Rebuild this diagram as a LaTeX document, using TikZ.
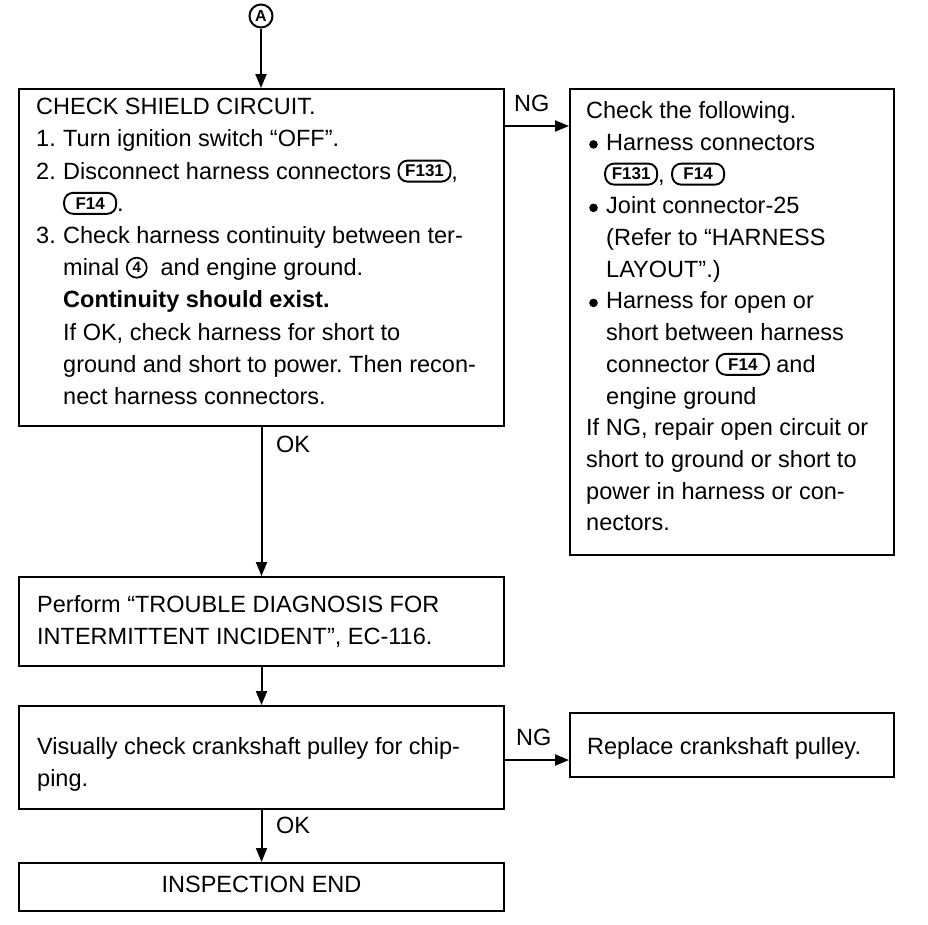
\documentclass[tikz,border=0pt]{standalone}
\usepackage{fontspec}
\setmainfont{Liberation Sans}
\usetikzlibrary{arrows.meta}
\frenchspacing
\newcommand{\mybadge}[1]{\tikz[x=1pt,y=1pt,baseline=-8pt]\node[anchor=center,draw,line width=1.9pt,rounded corners=9pt,minimum width=52pt,minimum height=21pt,inner sep=0pt,font=\fontsize{17}{17}\selectfont\bfseries] at (0,0) {#1};}
\newcommand{\mycirc}[1]{\tikz[x=1pt,y=1pt,baseline=-8pt]\node[anchor=center,circle,draw,line width=1.7pt,minimum size=20pt,inner sep=0pt,font=\fontsize{15}{15}\selectfont\bfseries] at (0,0) {#1};}
\newcommand{\mybul}{\makebox[20pt][l]{\hspace*{3pt}\tikz[x=1pt,y=1pt,baseline=-6pt]\fill (0,0) circle (4.3pt);}}
\newcommand{\fst}{\rule{0pt}{24pt}}
\begin{document}
\begin{tikzpicture}[x=1pt,y=-1pt,
  box/.style={draw,line width=2pt,anchor=north west,inner sep=0pt},
  txt/.style={anchor=north west,inner sep=0pt,align=left,font=\fontsize{23.5}{32.2}\selectfont},
  lbl/.style={anchor=base west,inner sep=0pt,font=\fontsize{23.5}{28}\selectfont},
  arr/.style={line width=2pt,-{Triangle[length=14pt,width=11pt]}}]
\useasboundingbox (0,0) rectangle (928,924);
\fill[white] (0,0) rectangle (928,924);
% top connector circle
\node[circle,draw,line width=2pt,minimum size=23pt,inner sep=0pt,font=\fontsize{16}{16}\selectfont\bfseries] (A) at (261,16) {A};
% boxes
\node[box,minimum width=485pt,minimum height=337pt] (b1) at (18,88) {};
\node[box,minimum width=324pt,minimum height=466pt] (b2) at (569,88) {};
\node[box,minimum width=485pt,minimum height=89pt] (b3) at (18,576) {};
\node[box,minimum width=485pt,minimum height=103pt] (b4) at (18,705) {};
\node[box,minimum width=324pt,minimum height=64pt] (b5) at (569,712) {};
\node[box,minimum width=485pt,minimum height=48pt] (b6) at (18,862) {};
% texts
\node[txt] (t1) at (36,90.5) {\fst CHECK SHIELD CIRCUIT.\\
\makebox[27pt][l]{1.}Turn ignition switch “OFF”.\\
\makebox[27pt][l]{2.}Disconnect harness connectors \mybadge{F131},\\
\hspace*{27pt}\mybadge{F14}.\\
\makebox[27pt][l]{3.}Check harness continuity between ter-\\
\hspace*{27pt}minal \mycirc{4}\ \ and engine ground.\\
\hspace*{27pt}\textbf{Continuity should exist.}\\
\hspace*{27pt}If OK, check harness for short to\\
\hspace*{27pt}ground and short to power. Then recon-\\
\hspace*{27pt}nect harness connectors.};
\node[txt,font=\fontsize{23.5}{31.7}\selectfont] (t2) at (586,94.5) {\fst Check the following.\\
\mybul Harness connectors\\
\hspace*{18pt}\mybadge{F131}, \mybadge{F14}\\
\mybul Joint connector-25\\
\hspace*{20pt}(Refer to “HARNESS\\
\hspace*{20pt}LAYOUT”.)\\
\mybul Harness for open or\\
\hspace*{20pt}short between harness\\
\hspace*{20pt}connector \mybadge{F14}\ and\\
\hspace*{20pt}engine ground\\
If NG, repair open circuit or\\
short to ground or short to\\
power in harness or con-\\
nectors.};
\node[txt,font=\fontsize{23.5}{32}\selectfont] (t3) at (37,588.5) {\fst Perform “TROUBLE DIAGNOSIS FOR\\
INTERMITTENT INCIDENT”, EC-116.};
\node[txt,font=\fontsize{23.5}{32}\selectfont] (t4) at (37,730.5) {\fst Visually check crankshaft pulley for chip-\\
ping.};
\node[txt] (t5) at (587,730.5) {\fst Replace crankshaft pulley.};
\node[anchor=base,inner sep=0pt,font=\fontsize{23.5}{28}\selectfont] (t6) at (b6.center |- 0,892.5) {INSPECTION END};
% labels
\node[lbl] (ng1) at (514,111.5) {NG};
\node[lbl] (ok1) at (276,452.5) {OK};
\node[lbl] (ng2) at (516,745.5) {NG};
\node[lbl] (ok2) at (276,833.5) {OK};
% connectors
\draw[arr] (A.south) -- (A.south |- b1.north);
\draw[arr] ([yshift=-38pt]b1.north east) -- ([yshift=-38pt]b1.north east -| b2.west);
\draw[arr] (b1.south) -- (b3.north);
\draw[arr] (b3.south) -- (b4.north);
\draw[arr] ([yshift=-55pt]b4.north east) -- ([yshift=-55pt]b4.north east -| b5.west);
\draw[arr] (b4.south) -- (b6.north);
\end{tikzpicture}
\end{document}
